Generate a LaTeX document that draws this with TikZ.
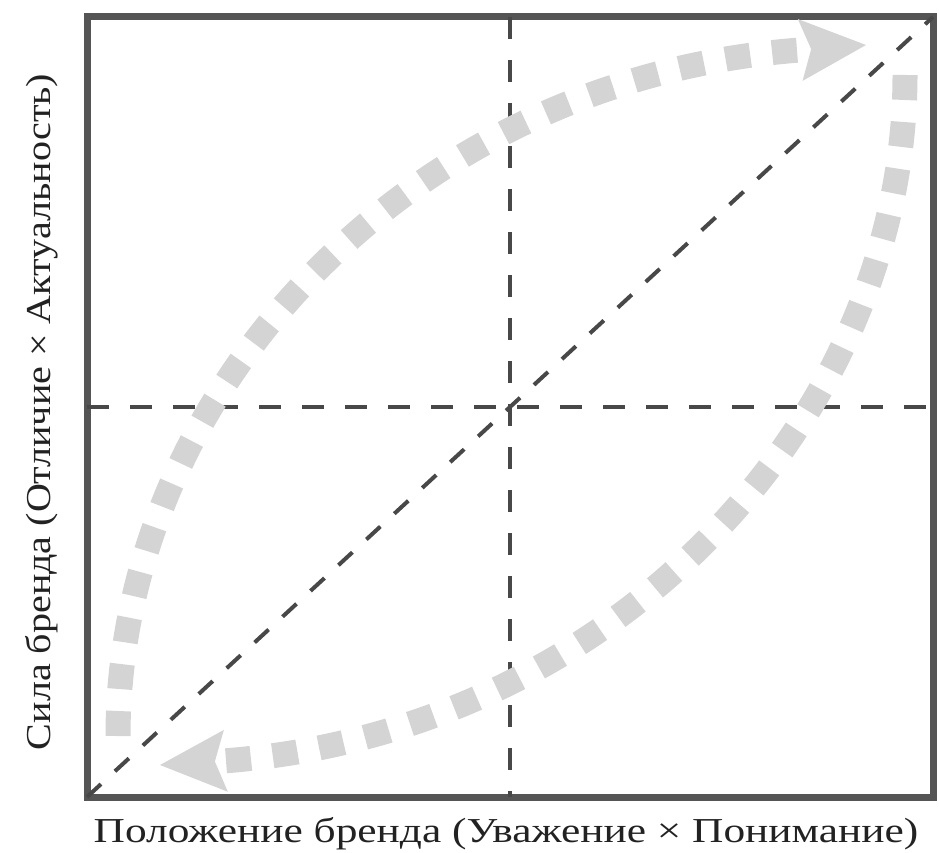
\documentclass[tikz,border=0pt]{standalone}
\usepackage{graphicx}
\usepackage{fontspec}
\setmainfont{Liberation Serif}
\usetikzlibrary{arrows.meta,calc}
\definecolor{pframe}{HTML}{555555}
\definecolor{pdash}{HTML}{484848}
\definecolor{pdot}{HTML}{D4D4D4}
\definecolor{ptext}{HTML}{222222}
\tikzset{
  % Grey frame of the map and its dashed guides.
  frame/.style     = {draw=pframe, line width=7pt},
  guide/.style     = {pdash, line width=4.5pt, dash pattern=on 22pt off 21pt},
  diag guide/.style = {pdash, line width=4pt, dash pattern=on 19pt off 19pt},
  % Light square-dotted path with a big notched head.
  drift/.style     = {pdot, line width=25pt, dash pattern=on 25pt off 22pt,
                      -{Stealth[length=66pt, width=62pt, inset=11pt, line width=0pt]}},
  axis lbl/.style  = {font=\fontsize{35}{38}\selectfont, text=ptext, inner sep=0pt},
}
\newcommand{\wide}[2]{\scalebox{#1}[1]{#2}}

\begin{document}
\begin{tikzpicture}[x=1pt,y=-1pt]
\useasboundingbox (0,0) rectangle (939,853);
% ---- frame ----------------------------------------------------------
\coordinate (nw) at (87,17);
\coordinate (se) at (933,797);
\coordinate (mid) at ($(nw)!0.5!(se)$);
\draw[frame] (nw) rectangle (se);

% ---- guides ---------------------------------------------------------
\draw[guide] (nw -| mid) -- (se -| mid);
\draw[guide] (nw |- mid) -- (se |- mid);
\draw[diag guide] (nw |- se) -- (se |- nw);

% ---- drift paths ----------------------------------------------------
\draw[drift] (118,736) .. controls (118,400) and (400,80) .. (800,50) -- (866,45);
\draw[drift] (905,75) .. controls (905,411) and (623,731) .. (223,761) -- (160,765);

% ---- axis labels ----------------------------------------------------
\node[axis lbl, anchor=base] (xlbl) at (506,842)
     {\wide{1.24}{Положение бренда (Уважение × Понимание)}};
\node[axis lbl, anchor=base, rotate=90] (ylbl) at (50,412)
     {\wide{1.145}{Сила бренда (Отличие × Актуальность)}};
\end{tikzpicture}
\end{document}
